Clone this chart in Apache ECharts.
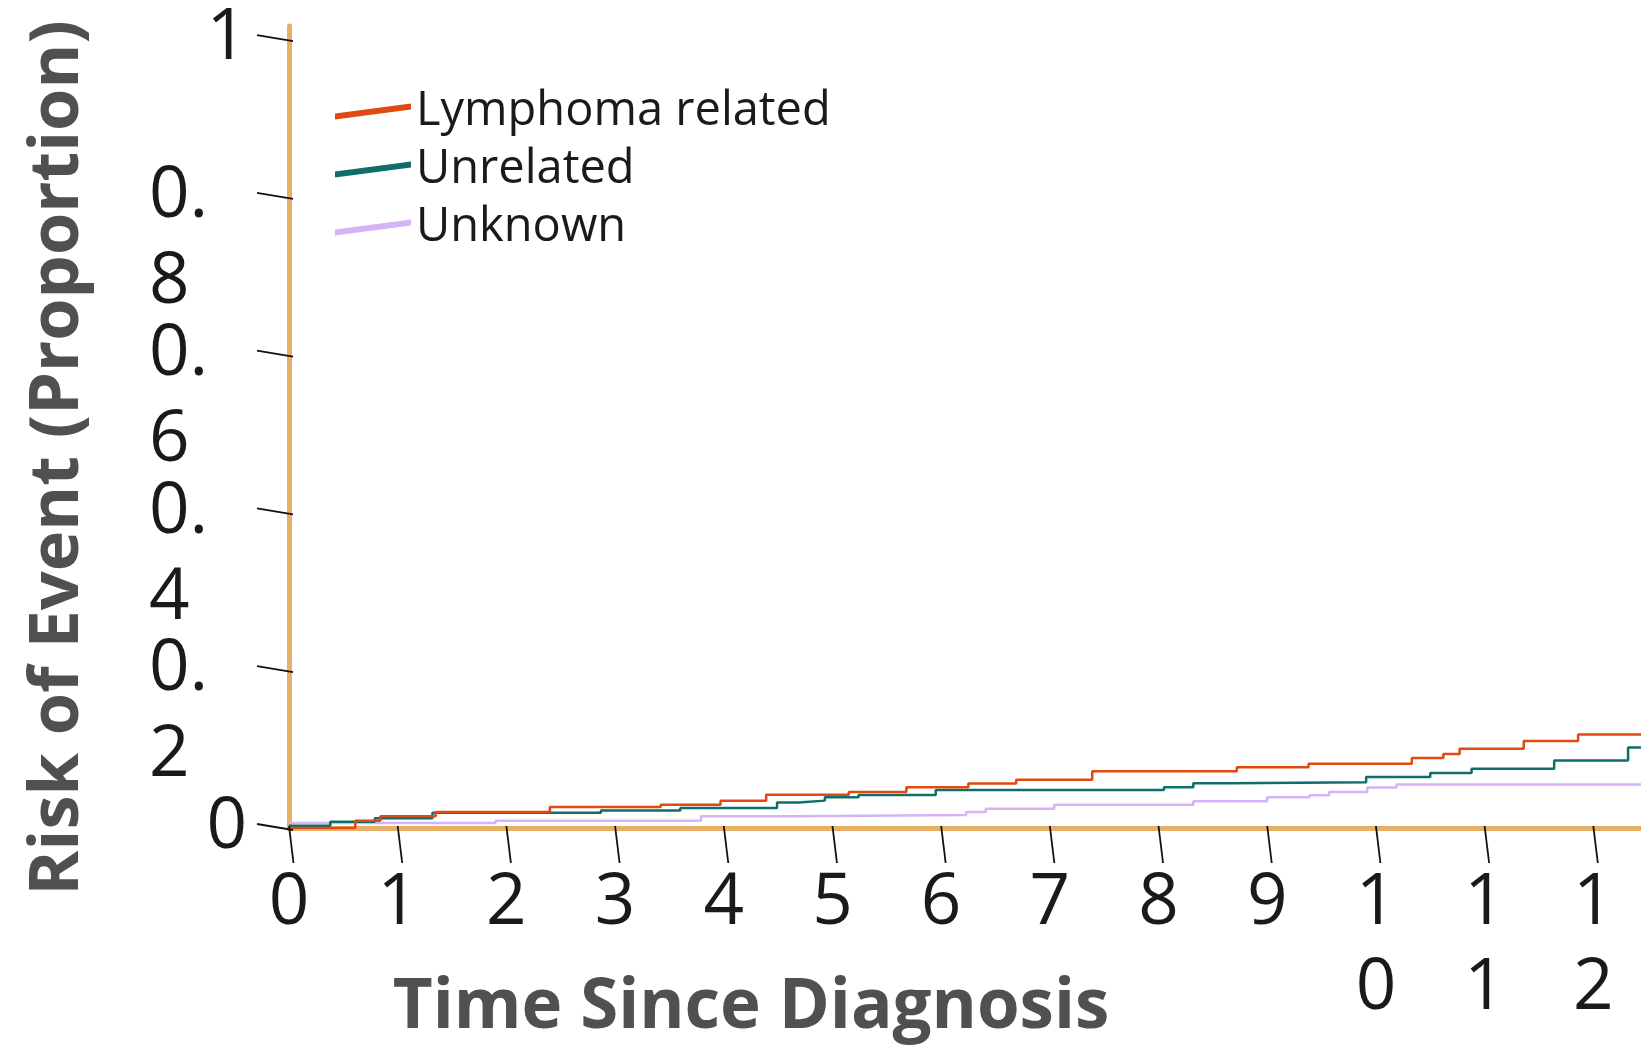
<!DOCTYPE html>
<html>
<head>
<meta charset="utf-8">
<script src="https://cdn.jsdelivr.net/npm/echarts@6/dist/echarts.min.js"></script>
<style>
html,body{margin:0;padding:0;background:#ffffff;}
#chart{width:1641px;height:1046px;}
</style>
</head>
<body>
<div id="chart"></div>
<script>
// ---- data (cumulative risk step functions) ----
const seriesNames = ['Lymphoma related', 'Unrelated', 'Unknown'];
const seriesColors = ['#E0490F', '#0D6E6B', '#D4B3F6'];

const lymphomaTime = [0, 0.61, 0.84, 1.35, 2.40, 3.42, 3.97, 4.39, 5.15, 5.68, 6.25, 6.69, 7.39, 8.72, 9.38, 10.33, 10.62, 10.77, 11.36, 11.86, 13];
const lymphomaRisk = [0, 0.0093, 0.0150, 0.0203, 0.0267, 0.0296, 0.0345, 0.0423, 0.0457, 0.0518, 0.0565, 0.0610, 0.0719, 0.0770, 0.0814, 0.0886, 0.0939, 0.1003, 0.1104, 0.1184, 0.1184];

const unrelatedTime = [0, 0.38, 0.79, 1.32, 2.87, 3.60, 4.49, 4.69, 4.93, 5.24, 5.95, 8.05, 8.32, 8.65, 9.91, 10.50, 10.88, 11.64, 12.32, 13];
const unrelatedRisk = [0.003, 0.0078, 0.0122, 0.0192, 0.0222, 0.0252, 0.0324, 0.0347, 0.0390, 0.0418, 0.0482, 0.0516, 0.0567, 0.0580, 0.0645, 0.0698, 0.0750, 0.0855, 0.1020, 0.1020];

const unknownTime = [0, 1.90, 3.79, 4.64, 6.23, 6.41, 7.04, 8.32, 9.00, 9.39, 9.57, 9.92, 10.19, 13];
const unknownRisk = [0.0062, 0.0093, 0.0148, 0.0165, 0.0203, 0.0245, 0.0296, 0.0338, 0.0389, 0.0415, 0.0457, 0.0512, 0.0550, 0.0550];

const yTickValues = [0, 0.2, 0.4, 0.6, 0.8, 1];
const xTickValues = [0, 1, 2, 3, 4, 5, 6, 7, 8, 9, 10, 11, 12];

const xAxisTitle = 'Time Since Diagnosis';
const yAxisTitle = 'Risk of Event (Proportion)';

// ---- build ----
function pairs(t, v) { return t.map((x, i) => [x, v[i]]); }
const seriesData = [pairs(lymphomaTime, lymphomaRisk), pairs(unrelatedTime, unrelatedRisk), pairs(unknownTime, unknownRisk)];

const axisColor = '#E6B066';
const tickColor = '#111111';
const FONT = '"Open Sans", "Noto Sans", sans-serif';

const lineSeries = seriesNames.map((name, i) => ({
  name: name, type: 'line', step: 'end', showSymbol: false, symbol: 'none',
  data: seriesData[i], color: seriesColors[i],
  itemStyle: {color: seriesColors[i]},
  lineStyle: {color: seriesColors[i], width: 2.5},
  z: 5 - i
}));

// slanted tick marks, positioned through the axis scales
const xTickSeries = {
  type: 'custom', name: 'x-ticks', silent: true, clip: false,
  data: xTickValues.map(t => [t, 0]),
  renderItem: function (params, api) {
    const p = api.coord([api.value(0), api.value(1)]);
    return {type: 'line', shape: {x1: p[0], y1: p[1] - 2, x2: p[0] + 4.5, y2: p[1] + 35},
            style: {stroke: tickColor, lineWidth: 1.8}};
  },
  z: 6
};
const yTickSeries = {
  type: 'custom', name: 'y-ticks', silent: true, clip: false,
  data: yTickValues.map(v => [0, v]),
  renderItem: function (params, api) {
    const p = api.coord([api.value(0), api.value(1)]);
    return {type: 'line', shape: {x1: p[0] - 32, y1: p[1] - 4, x2: p[0] + 4, y2: p[1] + 2},
            style: {stroke: tickColor, lineWidth: 1.8}};
  },
  z: 6
};

// y labels: wrapped in a narrow box, first line centred on its tick.
// Alternate labels are split over two coincident axes so that the tall
// wrapped label boxes never count as overlapping neighbours.
function yLabel(values) {
  return {
    customValues: values, showMinLabel: true, showMaxLabel: true, hideOverlap: false,
    fontSize: 71, color: '#1a1a1a', fontFamily: FONT, margin: 42,
    width: 98, overflow: 'breakAll', lineHeight: 86,
    verticalAlign: 'top', padding: [-43, 0, 0, 0],
    formatter: function (v) {
      const s = String(+(+v).toFixed(2));
      return s.length > 1 ? '{l|' + s + '}' : '{r|' + s + '}';
    },
    rich: {
      l: {align: 'left', fontSize: 71, lineHeight: 86, fontFamily: FONT, color: '#1a1a1a'},
      r: {align: 'right', fontSize: 71, lineHeight: 86, fontFamily: FONT, color: '#1a1a1a'}
    }
  };
}
const yAxisBase = {type: 'value', min: 0, max: 1.0165, position: 'left', axisTick: {show: false}, splitLine: {show: false}};

const chart = echarts.init(document.getElementById('chart'), null, {renderer: 'canvas'});
chart.setOption({
  animation: false,
  backgroundColor: '#ffffff',
  grid: {left: 289, top: 26, width: 1413, height: 802, outerBoundsMode: 'none', containLabel: false},
  legend: {
    orient: 'vertical', left: 335, top: 88, padding: 0,
    itemWidth: 76, itemHeight: 16, itemGap: 11,
    icon: 'path://M0,10L76,0L76,6L0,16Z',
    itemStyle: {borderWidth: 0},
    textStyle: {fontSize: 47, color: '#1a1a1a', fontFamily: FONT},
    data: seriesNames
  },
  xAxis: {
    type: 'value', min: 0, max: 13, interval: 1,
    axisLine: {show: true, lineStyle: {color: axisColor, width: 5}},
    axisTick: {show: false},
    axisLabel: {
      customValues: xTickValues, showMinLabel: true, hideOverlap: false,
      fontSize: 71, color: '#1a1a1a', fontFamily: FONT, margin: 33,
      width: 60, overflow: 'breakAll', lineHeight: 85
    },
    splitLine: {show: false}
  },
  yAxis: [
    Object.assign({}, yAxisBase, {
      name: yAxisTitle, nameLocation: 'middle', nameGap: 196, nameRotate: 90,
      nameTextStyle: {fontSize: 68.5, fontWeight: 'bold', color: '#505050', fontFamily: FONT, padding: [0, 62, 0, 0]},
      axisLine: {show: true, lineStyle: {color: axisColor, width: 5}},
      axisLabel: yLabel(yTickValues.filter((v, i) => i % 2 === 0))
    }),
    Object.assign({}, yAxisBase, {
      axisLine: {show: false},
      axisLabel: yLabel(yTickValues.filter((v, i) => i % 2 === 1))
    })
  ],
  graphic: [{
    type: 'text', x: 751, y: 1008,
    style: {text: xAxisTitle, font: 'bold 69px "Open Sans", sans-serif', fill: '#505050',
            textAlign: 'center', textVerticalAlign: 'middle', align: 'center', verticalAlign: 'middle'}
  }],
  series: lineSeries.concat([xTickSeries, yTickSeries])
});
</script>
</body>
</html>
